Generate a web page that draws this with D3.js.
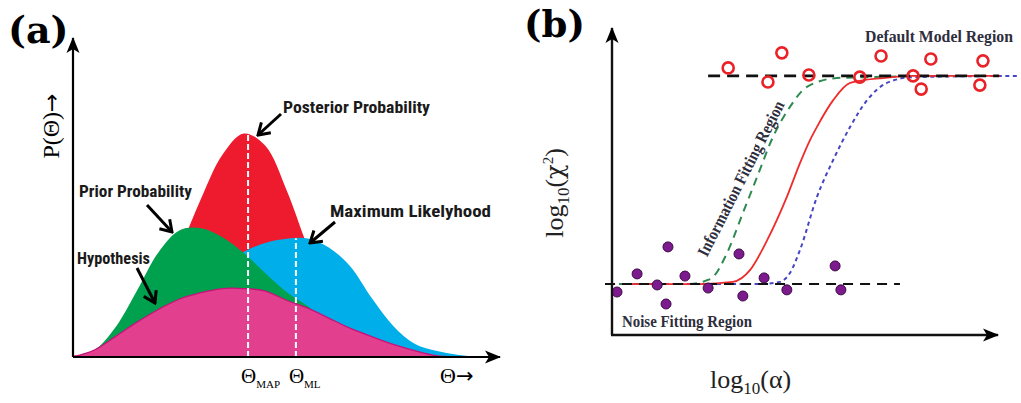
<!DOCTYPE html>
<html>
<head>
<meta charset="utf-8">
<script src="https://cdn.jsdelivr.net/npm/d3@7"></script>
<style>
body { margin: 0; background: #fff; }
</style>
</head>
<body>
<script>
// ---- panel (a): densities over theta ----
var theta = [0, 0.5, 1, 1.5, 2, 2.5, 3, 3.5, 4, 4.5, 5, 5.5, 6, 6.5, 7, 7.5, 8, 8.5, 9, 9.5, 10];
var posterior = [0.05, 0.12, 0.35, 1.0, 2.0, 3.4, 5.0, 6.38, 7.05, 6.67, 5.27, 3.47, 1.9, 0.87, 0.33, 0.1, 0.02, 0, 0, 0, 0];
var prior = [0, 0.22, 0.95, 2.1, 3.3, 4.0, 4.06, 3.78, 3.28, 2.65, 2.05, 1.6, 1.05, 0.6, 0.32, 0.17, 0.08, 0.04, 0.02, 0.01, 0];
var likelihood = [0, 0.1, 0.4, 0.8, 1.3, 1.8, 2.35, 2.9, 3.32, 3.6, 3.73, 3.74, 3.45, 2.85, 1.85, 0.98, 0.42, 0.2, 0.07, 0.01, 0];
var hypothesis = [0, 0.22, 0.65, 1.1, 1.5, 1.83, 2.03, 2.16, 2.16, 2.08, 1.79, 1.54, 1.22, 0.9, 0.64, 0.4, 0.2, 0.04, 0, 0, 0];
var thetaMAP = 4.1, peakMAP = 7.07;
var thetaML = 5.22, peakML = 3.75;

// ---- panel (b): chi^2 vs alpha ----
var redAlpha = [0.39, 2.28, 3.13, 3.58, 4.02, 4.53, 4.87, 5.13, 5.31, 5.73, 6.17, 7.02, 7.80, 10.05];
var redChi = [1.66, 1.66, 1.73, 2.12, 3.09, 4.50, 5.60, 6.35, 6.78, 7.65, 8.21, 8.37, 8.44, 8.44];
var greenAlpha = [-0.18, 2.02, 2.41, 2.62, 2.98, 3.39, 3.76, 4.17, 4.61, 5.05, 5.83, 6.68, 8.5];
var greenChi = [1.66, 1.66, 1.76, 1.89, 2.67, 3.97, 5.15, 6.45, 7.43, 8.08, 8.37, 8.40, 8.44];
var blueAlpha = [0.39, 3.83, 4.35, 4.61, 4.87, 5.31, 5.73, 6.17, 6.61, 7.12, 7.80, 10.52];
var blueChi = [1.66, 1.66, 1.73, 2.02, 2.77, 4.50, 5.70, 6.78, 7.65, 8.21, 8.40, 8.44];
var openAlpha = [3.01, 4.04, 4.40, 5.10, 6.42, 6.97, 7.80, 8.01, 8.26, 9.61, 9.53];
var openChi = [8.70, 8.24, 9.19, 8.47, 8.40, 9.09, 8.44, 8.01, 8.99, 8.93, 8.14];
var dotAlpha = [0.13, 0.65, 1.17, 1.40, 1.45, 1.89, 2.49, 3.29, 3.39, 3.94, 4.53, 5.78, 5.93];
var dotChi = [1.40, 1.99, 1.63, 1.01, 2.87, 1.92, 1.53, 2.64, 1.27, 1.86, 1.47, 2.25, 1.47];
var upperLevel = 8.44, lowerLevel = 1.66;

var svg = d3.select('body').append('svg')
    .attr('width', 1021)
    .attr('height', 403);

var defs = svg.append('defs');
defs.append('marker')
    .attr('id', 'axhead')
    .attr('markerUnits', 'userSpaceOnUse')
    .attr('viewBox', '-16 -8 18 16')
    .attr('markerWidth', 18).attr('markerHeight', 16)
    .attr('refX', 0).attr('refY', 0)
    .attr('orient', 'auto')
    .append('path')
    .attr('d', 'M1,0 L-15,-6.5 L-11,0 L-15,6.5 Z')
    .attr('fill', '#000');
defs.append('marker')
    .attr('id', 'vhead')
    .attr('markerUnits', 'userSpaceOnUse')
    .attr('viewBox', '-14 -9 16 18')
    .attr('markerWidth', 16).attr('markerHeight', 18)
    .attr('refX', 0).attr('refY', 0)
    .attr('orient', 'auto')
    .append('path')
    .attr('d', 'M-11,-7 L0,0 L-11,7')
    .attr('fill', 'none')
    .attr('stroke', '#000')
    .attr('stroke-width', 3);

// ================= panel (a) =================
var ax = d3.scaleLinear().domain([0, 10]).range([73, 500]);
var ay = d3.scaleLinear().domain([0, 10]).range([357, 40]);
var pa = svg.append('g');

function densityArea(vals) {
    return d3.area()
        .x(function(d, i) { return ax(theta[i]); })
        .y0(ay(0))
        .y1(function(d) { return ay(Math.max(0, d)); })
        .curve(d3.curveCatmullRom.alpha(0.5))(vals);
}

pa.append('path').attr('d', densityArea(posterior)).attr('fill', '#ee1b2f');
pa.append('path').attr('d', densityArea(likelihood)).attr('fill', '#00aee9');
pa.append('path').attr('d', densityArea(prior)).attr('fill', '#00a14e');
pa.append('path').attr('d', densityArea(hypothesis)).attr('fill', '#e2408f');
pa.append('path')
    .attr('d', d3.line()
        .x(function(d, i) { return ax(theta[i]); })
        .y(function(d) { return ay(Math.max(0, d)); })
        .curve(d3.curveCatmullRom.alpha(0.5))(hypothesis))
    .attr('fill', 'none')
    .attr('stroke', '#c8117a')
    .attr('stroke-width', 1.3);

// white dashed markers
[[thetaMAP, peakMAP], [thetaML, peakML]].forEach(function(m) {
    pa.append('line')
        .attr('x1', ax(m[0])).attr('x2', ax(m[0]))
        .attr('y1', ay(0)).attr('y2', ay(m[1]))
        .attr('stroke', '#fff')
        .attr('stroke-width', 2)
        .attr('stroke-dasharray', '6,3');
});

// axes
pa.append('line')
    .attr('x1', ax(0)).attr('y1', ay(0)).attr('x2', ax(0)).attr('y2', ay(10) - 2)
    .attr('stroke', '#000').attr('stroke-width', 2.2)
    .attr('marker-end', 'url(#axhead)');
pa.append('line')
    .attr('x1', ax(0)).attr('y1', ay(0)).attr('x2', ax(10)).attr('y2', ay(0))
    .attr('stroke', '#000').attr('stroke-width', 2.2)
    .attr('marker-end', 'url(#axhead)');

// annotations
var labelFont = '"Liberation Sans Narrow", "Roboto Condensed", Roboto, sans-serif';
var notes = [
    { text: 'Posterior Probability', x: 283, y: 113, len: 147, from: [281, 114], to: [258, 135] },
    { text: 'Prior Probability', x: 79, y: 197, len: 113, from: [147, 205], to: [172, 232] },
    { text: 'Maximum Likelyhood', x: 330, y: 217, len: 161, from: [335, 222], to: [310, 243] },
    { text: 'Hypothesis', x: 77, y: 264, len: 73, from: [137, 268], to: [155, 303] }
];
notes.forEach(function(n) {
    pa.append('text')
        .attr('x', n.x).attr('y', n.y)
        .attr('font-family', labelFont)
        .attr('font-weight', 'bold')
        .attr('font-size', 17)
        .attr('textLength', n.len)
        .attr('lengthAdjust', 'spacingAndGlyphs')
        .attr('fill', '#1a1a1a')
        .text(n.text);
    pa.append('line')
        .attr('x1', n.from[0]).attr('y1', n.from[1])
        .attr('x2', n.to[0]).attr('y2', n.to[1])
        .attr('stroke', '#000').attr('stroke-width', 3)
        .attr('marker-end', 'url(#vhead)');
});

var serif = '"Liberation Serif", "DejaVu Serif", serif';
var arrowFont = '"DejaVu Sans", sans-serif';
var pl = pa.append('text')
    .attr('transform', 'translate(59,126) rotate(-90)')
    .attr('text-anchor', 'middle')
    .attr('font-family', serif)
    .attr('font-size', 24);
pl.append('tspan').text('P(\u0398)');
pl.append('tspan').attr('font-family', arrowFont).attr('font-size', 22).text('\u2192');

function thetaTick(t, sub) {
    var tx = pa.append('text')
        .attr('x', ax(t) - 7).attr('y', 383)
        .attr('font-family', serif)
        .attr('font-size', 21);
    tx.append('tspan').text('\u0398');
    tx.append('tspan').attr('dy', 5).attr('font-size', 11).text(sub);
}
thetaTick(thetaMAP, 'MAP');
thetaTick(thetaML, 'ML');

var tl = pa.append('text')
    .attr('x', 440).attr('y', 383)
    .attr('font-family', serif)
    .attr('font-size', 22);
tl.append('tspan').text('\u0398');
tl.append('tspan').attr('font-family', arrowFont).attr('font-size', 21).text('\u2192');

svg.append('text')
    .attr('x', 8).attr('y', 43)
    .attr('font-family', '"DejaVu Serif", serif')
    .attr('font-weight', 'bold')
    .attr('font-size', 38)
    .text('(a)');

// ================= panel (b) =================
var bx = d3.scaleLinear().domain([0, 10]).range([612, 998]);
var by = d3.scaleLinear().domain([0, 10]).range([335, 28]);
var pb = svg.append('g');

function sigmoidLine(xs, ys) {
    return d3.line()
        .x(function(d, i) { return bx(xs[i]); })
        .y(function(d) { return by(d); })
        .curve(d3.curveMonotoneX)(ys);
}

pb.append('path').attr('d', sigmoidLine(greenAlpha, greenChi))
    .attr('fill', 'none').attr('stroke', '#2e8a50').attr('stroke-width', 2)
    .attr('stroke-dasharray', '8,6');
pb.append('path').attr('d', sigmoidLine(blueAlpha, blueChi))
    .attr('fill', 'none').attr('stroke', '#4646c4').attr('stroke-width', 2)
    .attr('stroke-dasharray', '4,3.5');
pb.append('path').attr('d', sigmoidLine(redAlpha, redChi))
    .attr('fill', 'none').attr('stroke', '#ef2b2b').attr('stroke-width', 1.8);

// reference levels
pb.append('line')
    .attr('x1', bx(2.49)).attr('x2', bx(10.03))
    .attr('y1', by(upperLevel)).attr('y2', by(upperLevel))
    .attr('stroke', '#111').attr('stroke-width', 2.6)
    .attr('stroke-dasharray', '12,7');
pb.append('line')
    .attr('x1', bx(-0.18)).attr('x2', bx(7.46))
    .attr('y1', by(lowerLevel)).attr('y2', by(lowerLevel))
    .attr('stroke', '#111').attr('stroke-width', 2)
    .attr('stroke-dasharray', '10,7');

pb.selectAll('circle.open')
    .data(openAlpha)
    .enter().append('circle')
    .attr('class', 'open')
    .attr('cx', function(d) { return bx(d); })
    .attr('cy', function(d, i) { return by(openChi[i]); })
    .attr('r', 5.5)
    .attr('fill', 'none')
    .attr('stroke', '#ea2227')
    .attr('stroke-width', 2.6);

pb.selectAll('circle.dot')
    .data(dotAlpha)
    .enter().append('circle')
    .attr('class', 'dot')
    .attr('cx', function(d) { return bx(d); })
    .attr('cy', function(d, i) { return by(dotChi[i]); })
    .attr('r', 5)
    .attr('fill', '#7c1a8e')
    .attr('stroke', '#3b0d45')
    .attr('stroke-width', 1);

// axes
pb.append('line')
    .attr('x1', bx(0)).attr('y1', by(0)).attr('x2', bx(0)).attr('y2', by(10))
    .attr('stroke', '#111').attr('stroke-width', 2.4)
    .attr('marker-end', 'url(#axhead)');
pb.append('line')
    .attr('x1', bx(0) - 1).attr('y1', by(0)).attr('x2', bx(10)).attr('y2', by(0))
    .attr('stroke', '#111').attr('stroke-width', 2.4)
    .attr('marker-end', 'url(#axhead)');

var regionColor = '#2e2e3c';
pb.append('text')
    .attr('x', 865).attr('y', 42)
    .attr('font-family', serif).attr('font-weight', 'bold').attr('font-size', 16)
    .attr('textLength', 148).attr('lengthAdjust', 'spacingAndGlyphs')
    .attr('fill', regionColor)
    .text('Default Model Region');
pb.append('text')
    .attr('x', 622).attr('y', 327)
    .attr('font-family', serif).attr('font-weight', 'bold').attr('font-size', 16)
    .attr('textLength', 130).attr('lengthAdjust', 'spacingAndGlyphs')
    .attr('fill', regionColor)
    .text('Noise Fitting Region');
pb.append('text')
    .attr('transform', 'translate(746,181) rotate(-63)')
    .attr('text-anchor', 'middle')
    .attr('font-family', serif).attr('font-weight', 'bold').attr('font-size', 17)
    .attr('textLength', 172).attr('lengthAdjust', 'spacingAndGlyphs')
    .attr('fill', regionColor)
    .text('Information Fitting Region');

var yl = pb.append('text')
    .attr('transform', 'translate(563,193) rotate(-90)')
    .attr('text-anchor', 'middle')
    .attr('font-family', serif)
    .attr('font-size', 26)
    .attr('fill', '#222');
yl.append('tspan').text('log');
yl.append('tspan').attr('dy', 6).attr('font-size', 17).text('10');
yl.append('tspan').attr('dy', -6).text('(');
yl.append('tspan').attr('font-family', '"DejaVu Serif", serif').attr('font-size', 24).text('\u03c7');
yl.append('tspan').attr('dy', -10).attr('font-size', 15).text('2');
yl.append('tspan').attr('dy', 10).text(')');

var xl = pb.append('text')
    .attr('x', 710).attr('y', 388)
    .attr('font-family', serif)
    .attr('font-size', 26)
    .attr('fill', '#222');
xl.append('tspan').text('log');
xl.append('tspan').attr('dy', 6).attr('font-size', 17).text('10');
xl.append('tspan').attr('dy', -6).text('(\u03b1)');

svg.append('text')
    .attr('x', 524).attr('y', 37)
    .attr('font-family', '"DejaVu Serif", serif')
    .attr('font-weight', 'bold')
    .attr('font-size', 37)
    .text('(b)');
</script>
</body>
</html>
